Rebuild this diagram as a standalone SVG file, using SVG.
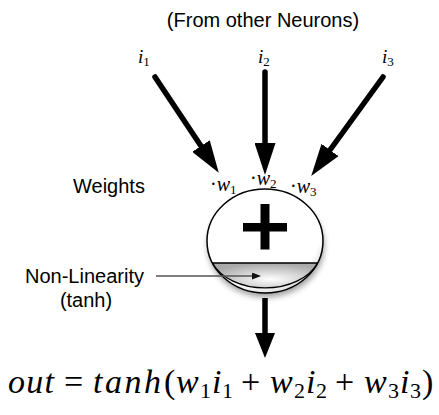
<svg xmlns="http://www.w3.org/2000/svg" width="439" height="415" viewBox="0 0 439 415">
  <style>
    .sans { font-family: "Liberation Sans", Arial, Helvetica, sans-serif; font-size: 20px; fill: #000; }
    .math { font-family: "Liberation Serif", "Times New Roman", serif; fill: #000; }
    .it { font-style: italic; }
    .sub { font-style: normal; font-size: 22px; }
    .wire { stroke: #000; stroke-width: 5.5; fill: none; stroke-linecap: round; }
  </style>
  <defs>
    <marker id="head" markerUnits="userSpaceOnUse" markerWidth="32" markerHeight="21" viewBox="0 0 32 21" refX="0" refY="10.5" orient="auto">
      <path d="M0,0 L32,10.5 L0,21 Z" fill="#000"/>
    </marker>
    <marker id="headOut" markerUnits="userSpaceOnUse" markerWidth="25" markerHeight="20" viewBox="0 0 25 20" refX="0" refY="10" orient="auto">
      <path d="M0,0 L25,10 L0,20 Z" fill="#000"/>
    </marker>
    <marker id="small" markerUnits="userSpaceOnUse" markerWidth="9" markerHeight="7" viewBox="0 0 9 7" refX="0" refY="3.5" orient="auto">
      <path d="M0,0 L9,3.5 L0,7 Z" fill="#111"/>
    </marker>
    <radialGradient id="bodyGrad" cx="0.45" cy="0.4" r="0.62">
      <stop offset="0" stop-color="#ffffff"/>
      <stop offset="0.85" stop-color="#ffffff"/>
      <stop offset="1" stop-color="#dcdcdc"/>
    </radialGradient>
    <radialGradient id="capGrad" cx="0.55" cy="0.65" r="0.62">
      <stop offset="0" stop-color="#ffffff"/>
      <stop offset="1" stop-color="#aaaaaa"/>
    </radialGradient>
    <filter id="shadow" x="-30%" y="-30%" width="160%" height="160%">
      <feGaussianBlur stdDeviation="3"/>
    </filter>
  </defs>

  <text class="sans" x="263" y="27" text-anchor="middle">(From other Neurons)</text>

  <g id="input1">
    <text class="math it" x="138" y="63" font-size="19">i<tspan font-style="normal" font-size="13" dy="3">1</tspan></text>
  </g>
  <g id="input2">
    <text class="math it" x="258" y="63" font-size="19">i<tspan font-style="normal" font-size="13" dy="3">2</tspan></text>
  </g>
  <g id="input3">
    <text class="math it" x="382" y="63" font-size="19">i<tspan font-style="normal" font-size="13" dy="3">3</tspan></text>
  </g>

  <g id="weights">
    <text class="sans" x="73" y="193">Weights</text>
    <text class="math" x="210" y="191" font-size="20">·<tspan font-style="italic">w</tspan><tspan font-size="13" dy="3">1</tspan></text>
    <text class="math" x="250" y="185" font-size="20">·<tspan font-style="italic">w</tspan><tspan font-size="13" dy="3">2</tspan></text>
    <text class="math" x="290" y="193" font-size="20">·<tspan font-style="italic">w</tspan><tspan font-size="13" dy="3">3</tspan></text>
  </g>

  <g id="neuron">
    <ellipse cx="266" cy="246" rx="58" ry="51" fill="#000" opacity="0.4" filter="url(#shadow)"/>
    <ellipse cx="265" cy="241" rx="58" ry="52" fill="url(#bodyGrad)" stroke="#000" stroke-width="1.5"/>
    <path d="M212.5,263 L317.5,263 A56,38.3 0 0 1 212.5,263 Z" fill="url(#capGrad)" stroke="#000" stroke-width="1.3"/>
    <rect x="243" y="223" width="44" height="8.5" fill="#000"/>
    <rect x="260.5" y="204" width="9" height="45.5" fill="#000"/>
  </g>

  <g id="nonlinearity">
    <text class="sans" x="25" y="283">Non-Linearity</text>
    <text class="sans" x="86" y="307" text-anchor="middle">(tanh)</text>
  </g>

  <g id="connectors">
    <line class="wire" x1="155" y1="77" x2="201" y2="146" marker-end="url(#head)"/>
    <line class="wire" x1="265" y1="72" x2="265" y2="143" marker-end="url(#head)"/>
    <line class="wire" x1="383" y1="77" x2="330" y2="150" marker-end="url(#head)"/>
    <line x1="156" y1="276" x2="252" y2="276" stroke="#555" stroke-width="1.5" marker-end="url(#small)"/>
    <line x1="265" y1="298" x2="265" y2="333" stroke="#000" stroke-width="5.5" marker-end="url(#headOut)"/>
  </g>

  <g id="formula">
    <text class="math" y="393" font-size="34"><tspan class="it" x="8" textLength="46" lengthAdjust="spacing">out</tspan><tspan x="64">=</tspan><tspan class="it" x="93" textLength="68" lengthAdjust="spacing">tanh</tspan><tspan x="164">(</tspan><tspan class="it" x="176">w</tspan><tspan class="sub" x="200" dy="5">1</tspan><tspan class="it" x="212" dy="-5">i</tspan><tspan class="sub" x="222" dy="5">1</tspan><tspan x="241" dy="-5">+</tspan><tspan class="it" x="270">w</tspan><tspan class="sub" x="294" dy="5">2</tspan><tspan class="it" x="306" dy="-5">i</tspan><tspan class="sub" x="316" dy="5">2</tspan><tspan x="335" dy="-5">+</tspan><tspan class="it" x="364">w</tspan><tspan class="sub" x="388" dy="5">3</tspan><tspan class="it" x="400" dy="-5">i</tspan><tspan class="sub" x="410" dy="5">3</tspan><tspan x="422" dy="-5">)</tspan></text>
  </g>
</svg>
